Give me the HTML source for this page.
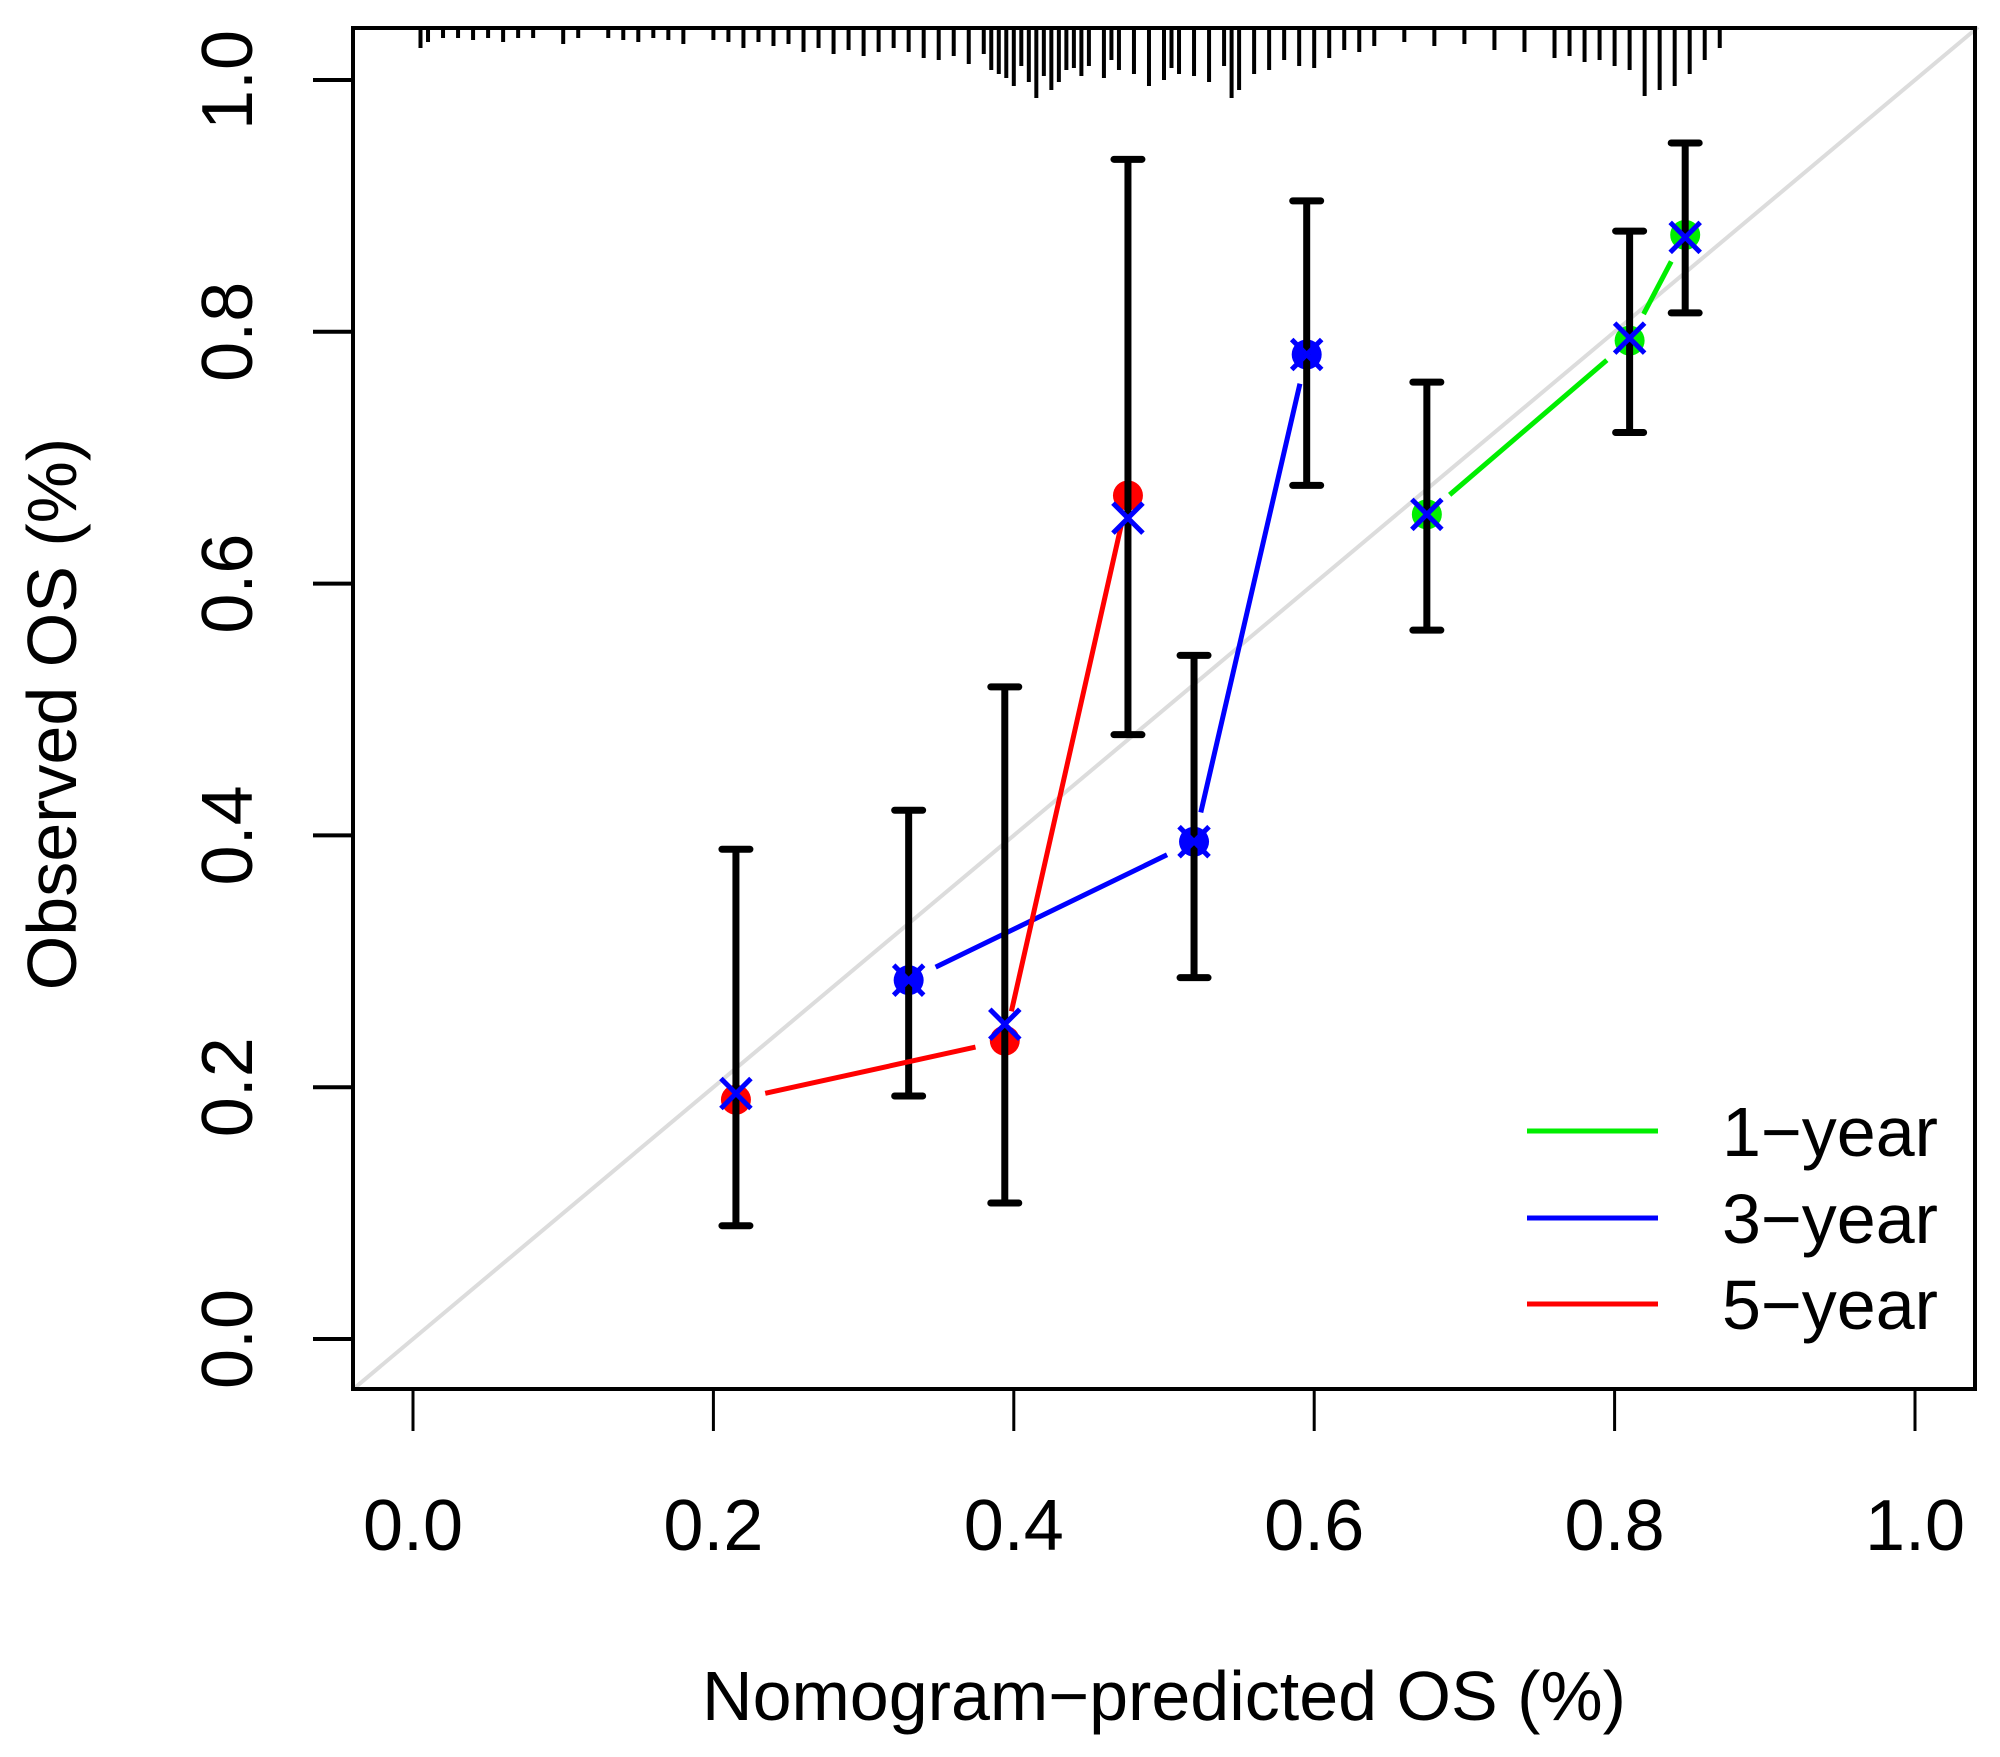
<!DOCTYPE html>
<html><head><meta charset="utf-8"><style>
html,body{margin:0;padding:0;background:#fff;}
svg{display:block;}
text{font-family:"Liberation Sans",Arial,sans-serif;fill:#000;}
</style></head><body>
<svg id="chart" width="2000" height="1757" viewBox="0 0 2000 1757">
<g id="rug"></g>
<line id="diag" stroke="#dcdcdc" stroke-width="4"/>
<g id="series"></g>
<rect x="353" y="28" width="1622" height="1361" fill="none" stroke="#000" stroke-width="4"/>
<g id="axes"></g>
<text x="1164" y="1720" font-size="70" text-anchor="middle">Nomogram−predicted OS (%)</text>
<text transform="translate(76,714) rotate(-90)" font-size="70" text-anchor="middle">Observed OS (%)</text>
<g>
<line x1="1527" y1="1131" x2="1658" y2="1131" stroke="#00ee00" stroke-width="5"/>
<text x="1722" y="1156" font-size="70">1−year</text>
<line x1="1527" y1="1218" x2="1658" y2="1218" stroke="#0000ff" stroke-width="5"/>
<text x="1722" y="1243" font-size="70">3−year</text>
<line x1="1527" y1="1304" x2="1658" y2="1304" stroke="#ff0000" stroke-width="5"/>
<text x="1722" y="1329" font-size="70">5−year</text>
</g>
</svg>
<script>
const ticks = [0, 0.2, 0.4, 0.6, 0.8, 1.0];
const tickLabels = ["0.0","0.2","0.4","0.6","0.8","1.0"];
const seriesNames = ["1-year","3-year","5-year"];
const seriesColors = ["#00ee00","#0000ff","#ff0000"];
const predicted1 = [0.675, 0.81, 0.847];
const observed1 = [0.655, 0.793, 0.877];
const lower1 = [0.563, 0.72, 0.815];
const upper1 = [0.76, 0.88, 0.95];
const cross1 = [0.655, 0.795, 0.875];
const predicted3 = [0.33, 0.52, 0.595];
const observed3 = [0.285, 0.395, 0.782];
const lower3 = [0.193, 0.287, 0.678];
const upper3 = [0.42, 0.543, 0.904];
const cross3 = [0.285, 0.395, 0.782];
const predicted5 = [0.215, 0.394, 0.476];
const observed5 = [0.19, 0.237, 0.67];
const lower5 = [0.09, 0.108, 0.48];
const upper5 = [0.389, 0.518, 0.937];
const cross5 = [0.195, 0.25, 0.652];
const rugX = [0.005,0.01,0.02,0.03,0.04,0.05,0.06,0.07,0.08,0.1,0.11,0.13,0.14,0.15,0.16,0.17,0.18,0.2,0.21,0.22,0.23,0.24,0.25,0.26,0.27,0.28,0.29,0.3,0.31,0.32,0.33,0.34,0.35,0.36,0.37,0.38,0.385,0.39,0.395,0.4,0.405,0.41,0.415,0.42,0.425,0.43,0.435,0.44,0.445,0.45,0.46,0.465,0.47,0.48,0.49,0.5,0.505,0.51,0.52,0.53,0.54,0.545,0.55,0.56,0.57,0.58,0.59,0.6,0.61,0.62,0.63,0.64,0.66,0.68,0.7,0.72,0.74,0.76,0.77,0.78,0.79,0.8,0.81,0.82,0.83,0.84,0.85,0.86,0.87];
const rugLen = [18,12,8,8,10,8,12,8,8,14,8,8,10,12,8,10,14,10,12,18,12,16,14,22,18,24,20,26,22,18,22,28,30,26,34,24,40,44,48,56,36,52,68,46,60,52,40,38,46,36,48,30,40,44,56,50,38,44,46,52,36,68,60,44,40,30,36,38,28,20,22,16,12,16,14,20,22,28,26,32,30,36,40,66,60,56,44,30,18];

const X = v => 413 + v * 1502;
const Y = v => 1339 - v * 1259;
const NS = "http://www.w3.org/2000/svg";
function mk(tag, attrs, parent){const e=document.createElementNS(NS,tag);for(const k in attrs)e.setAttribute(k,attrs[k]);parent.appendChild(e);return e;}

const diag = document.getElementById('diag');
const lo = (353-413)/1502;
diag.setAttribute('x1', X(lo)); diag.setAttribute('y1', Y(lo));
diag.setAttribute('x2', X(1.042)); diag.setAttribute('y2', Y(1.042));

const rug = document.getElementById('rug');
rugX.forEach((v,i)=>{
  const l = mk('line',{x1:X(v),x2:X(v),y1:30,y2:30+rugLen[i],stroke:'#000','stroke-width':4},rug);
  
  
});

const axes = document.getElementById('axes');
ticks.forEach((t,i)=>{
  const a = mk('line',{x1:X(t),x2:X(t),y1:1391,y2:1431,stroke:'#000','stroke-width':3},axes);
  
  
  const tx = mk('text',{x:X(t),y:1550,'font-size':72,'text-anchor':'middle'},axes);
  tx.textContent = tickLabels[i];
  
  
  const b = mk('line',{x1:313,x2:353,y1:Y(t),y2:Y(t),stroke:'#000','stroke-width':4},axes);
  
  
  const ty = mk('text',{transform:`translate(252,${Y(t)}) rotate(-90)`,'font-size':72,'text-anchor':'middle'},axes);
  ty.textContent = tickLabels[i];
  
  
});

const sg = document.getElementById('series');
const all = [[predicted1,observed1,lower1,upper1,cross1],[predicted3,observed3,lower3,upper3,cross3],[predicted5,observed5,lower5,upper5,cross5]];
const gap = 30;
all.forEach((s,si)=>{
  const [p,o,l,u,c] = s; const col = seriesColors[si];
  const g = mk('g',{},sg);
  
  
  for(let i=0;i<p.length-1;i++){
    const x1=X(p[i]),y1=Y(o[i]),x2=X(p[i+1]),y2=Y(o[i+1]);
    const dx=x2-x1,dy=y2-y1,d=Math.hypot(dx,dy);
    if(d<2*gap) continue;
    const ln = mk('line',{x1:x1+dx/d*gap,y1:y1+dy/d*gap,x2:x2-dx/d*gap,y2:y2-dy/d*gap,stroke:col,'stroke-width':5},g);
    
    
  }
  p.forEach((v,i)=>{
    const pt = mk('circle',{cx:X(v),cy:Y(o[i]),r:15,fill:col},g);
    
    
  });
  p.forEach((v,i)=>{
    const e = mk('path',{d:`M${X(v)},${Y(l[i])}V${Y(u[i])}M${X(v)-14},${Y(l[i])}h28M${X(v)-14},${Y(u[i])}h28`,stroke:'#000','stroke-width':7,fill:'none','stroke-linecap':'round'},g);
    
    
  });
  p.forEach((v,i)=>{
    const cx=X(v),cy=Y(c[i]),r=15;
    const x = mk('path',{d:`M${cx-r},${cy-r}L${cx+r},${cy+r}M${cx-r},${cy+r}L${cx+r},${cy-r}`,stroke:'#0000ff','stroke-width':5,fill:'none'},g);
    
    
  });
});
</script>
</body></html>
